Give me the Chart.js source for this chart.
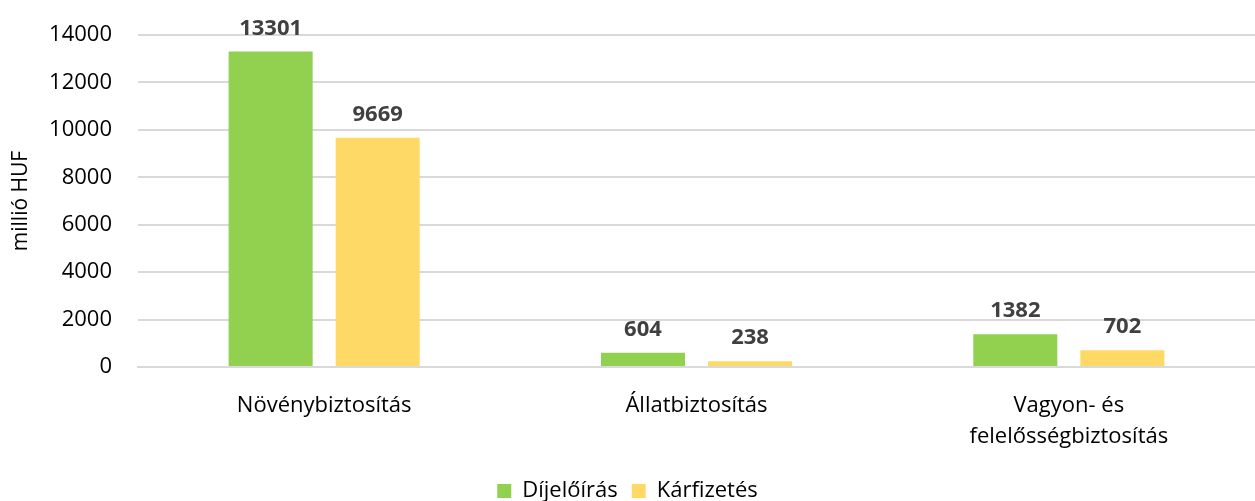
<!DOCTYPE html>
<html>
<head>
<meta charset="utf-8">
<script src="https://cdn.jsdelivr.net/npm/chart.js@4/dist/chart.umd.min.js"></script>
<style>
  html, body { margin: 0; padding: 0; background: #fff; }
  #wrap { width: 1255px; height: 501px; position: relative; }
</style>
</head>
<body>
<div id="wrap"><canvas id="c"></canvas></div>
<script>
var categories = ['Növénybiztosítás', 'Állatbiztosítás', ['Vagyon- és', 'felelősségbiztosítás']];
var dijeloiras = [13301, 604, 1382];
var karfizetes = [9669, 238, 702];
var yTicks = [0, 2000, 4000, 6000, 8000, 10000, 12000, 14000];

var FONT = "'Open Sans', 'Liberation Sans', sans-serif";

// values above the bars
var valueLabels = {
  id: 'valueLabels',
  afterDatasetsDraw: function (chart) {
    var ctx = chart.ctx;
    ctx.save();
    ctx.font = 'bold 22px ' + FONT;
    ctx.fillStyle = '#404040';
    ctx.textAlign = 'center';
    ctx.textBaseline = 'alphabetic';
    chart.data.datasets.forEach(function (ds, i) {
      chart.getDatasetMeta(i).data.forEach(function (bar, j) {
        ctx.fillText(ds.data[j], bar.x, bar.y - 17);
      });
    });
    ctx.restore();
  }
};

new Chart(document.getElementById('c'), {
  type: 'bar',
  data: {
    labels: categories,
    datasets: [
      { label: 'Díjelőírás', data: dijeloiras, backgroundColor: '#92D050' },
      { label: 'Kárfizetés', data: karfizetes, backgroundColor: '#FFD966' }
    ]
  },
  options: {
    responsive: true,
    maintainAspectRatio: false,
    animation: false,
    layout: { padding: { top: 35, left: 0, right: 0, bottom: -11 } },
    datasets: { bar: { categoryPercentage: 0.575, barPercentage: 0.785 } },
    plugins: {
      legend: {
        position: 'bottom',
        labels: { boxWidth: 14, boxHeight: 14, padding: 14, color: '#000', font: { family: FONT, size: 22, lineHeight: 1 } }
      },
      tooltip: { enabled: false }
    },
    scales: {
      x: {
        afterFit: function (axis) { axis.height = 99; },
        grid: { display: false, drawTicks: false },
        border: { color: '#d9d9d9', width: 2 },
        ticks: { color: '#000', font: { family: FONT, size: 22, lineHeight: 1.42 }, padding: 23, maxRotation: 0 }
      },
      y: {
        min: 0,
        max: 14000,
        afterBuildTicks: function (axis) {
          axis.ticks = yTicks.map(function (v) { return { value: v }; });
        },
        afterFit: function (axis) {
          axis.width = 138;
          axis.paddingTop = 0;
          axis.paddingBottom = 0;
        },
        grid: { color: '#d9d9d9', lineWidth: 2, drawTicks: false },
        border: { display: false },
        ticks: {
          color: '#000', font: { family: FONT, size: 22 }, padding: 26,
          callback: function (v) { return String(v); }
        },
        title: { display: true, text: 'millió HUF', color: '#000', font: { family: FONT, size: 21 }, padding: { top: 8, bottom: 0 } }
      }
    }
  },
  plugins: [valueLabels]
});
</script>
</body>
</html>
